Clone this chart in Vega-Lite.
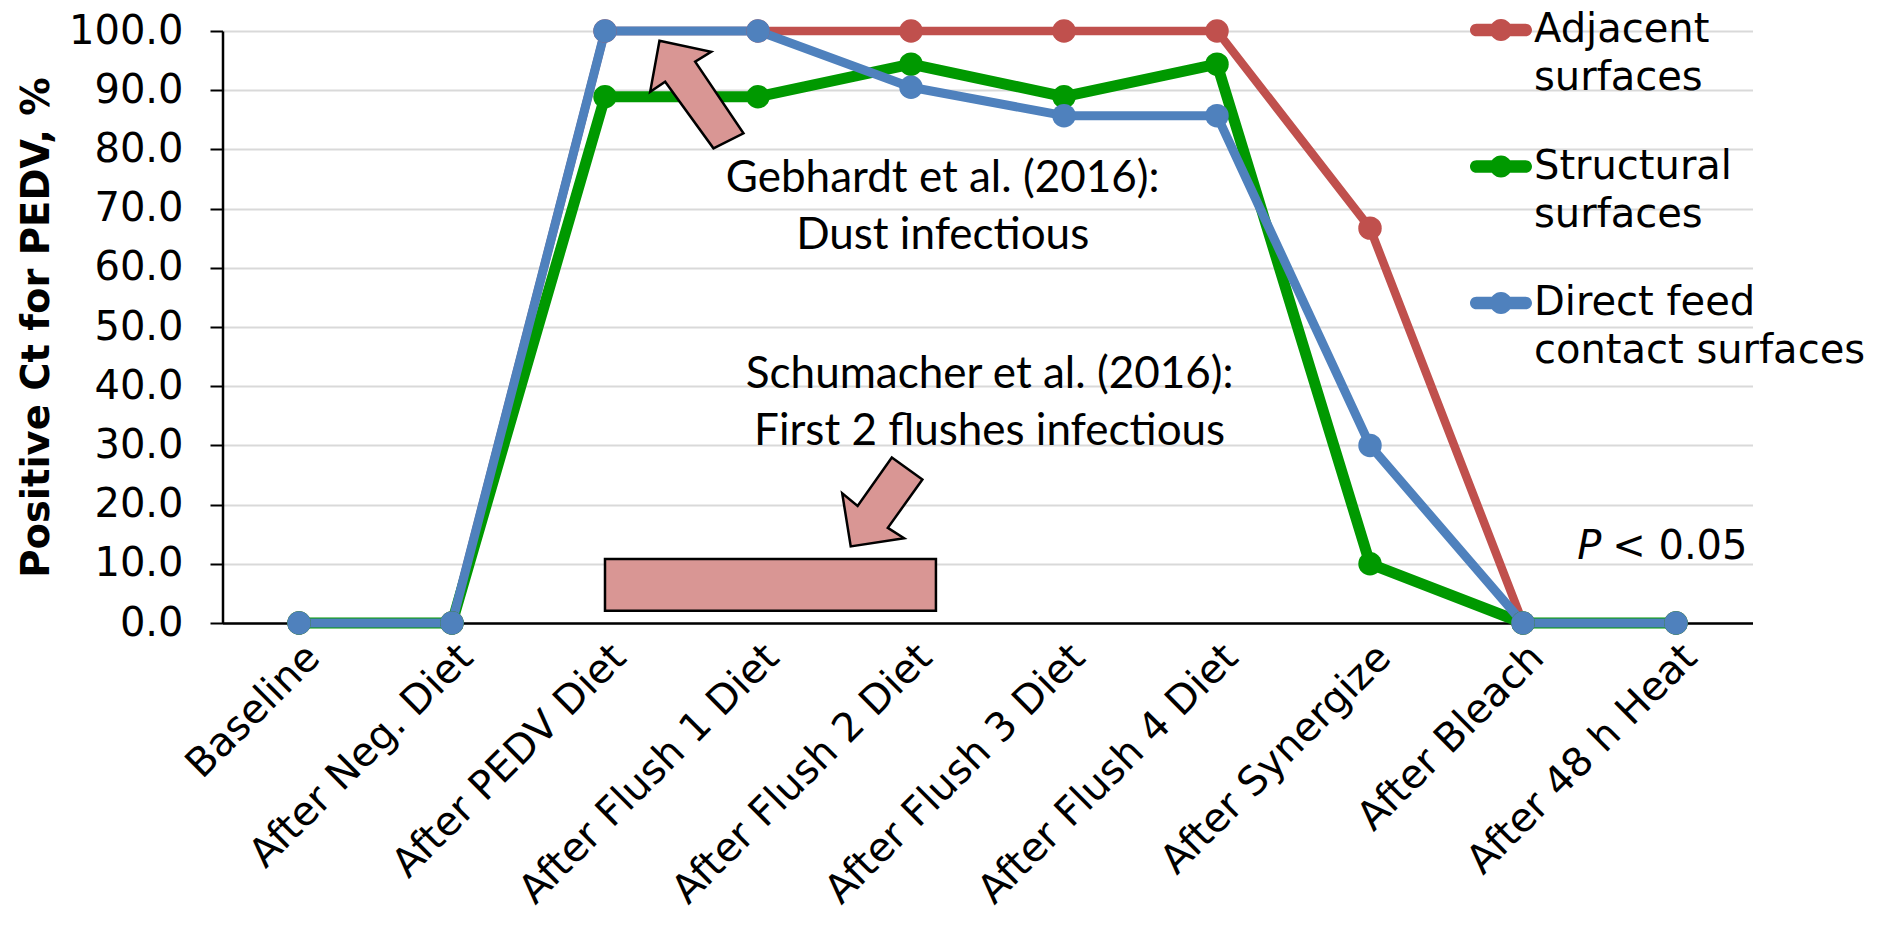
{
  "$schema": "https://vega.github.io/schema/vega-lite/v6.json",
  "width": 1530,
  "height": 592,
  "autosize": {"type": "none"},
  "padding": {"left": 222.5, "top": 31, "right": 136.5, "bottom": 315},
  "background": "white",
  "config": {
    "view": {"stroke": null},
    "style": {"guide-label": {"lineHeight": 48}}
  },
  "datasets": {
    "lines": [
      {"step": "Baseline", "series": "Adjacent surfaces", "value": 0},
      {"step": "After Neg. Diet", "series": "Adjacent surfaces", "value": 0},
      {"step": "After PEDV Diet", "series": "Adjacent surfaces", "value": 100},
      {"step": "After Flush 1 Diet", "series": "Adjacent surfaces", "value": 100},
      {"step": "After Flush 2 Diet", "series": "Adjacent surfaces", "value": 100},
      {"step": "After Flush 3 Diet", "series": "Adjacent surfaces", "value": 100},
      {"step": "After Flush 4 Diet", "series": "Adjacent surfaces", "value": 100},
      {"step": "After Synergize", "series": "Adjacent surfaces", "value": 66.7},
      {"step": "After Bleach", "series": "Adjacent surfaces", "value": 0},
      {"step": "After 48 h Heat", "series": "Adjacent surfaces", "value": 0},
      {"step": "Baseline", "series": "Structural surfaces", "value": 0},
      {"step": "After Neg. Diet", "series": "Structural surfaces", "value": 0},
      {"step": "After PEDV Diet", "series": "Structural surfaces", "value": 88.9},
      {"step": "After Flush 1 Diet", "series": "Structural surfaces", "value": 88.9},
      {"step": "After Flush 2 Diet", "series": "Structural surfaces", "value": 94.4},
      {"step": "After Flush 3 Diet", "series": "Structural surfaces", "value": 88.9},
      {"step": "After Flush 4 Diet", "series": "Structural surfaces", "value": 94.4},
      {"step": "After Synergize", "series": "Structural surfaces", "value": 10},
      {"step": "After Bleach", "series": "Structural surfaces", "value": 0},
      {"step": "After 48 h Heat", "series": "Structural surfaces", "value": 0},
      {"step": "Baseline", "series": "Direct feed contact surfaces", "value": 0},
      {"step": "After Neg. Diet", "series": "Direct feed contact surfaces", "value": 0},
      {"step": "After PEDV Diet", "series": "Direct feed contact surfaces", "value": 100},
      {"step": "After Flush 1 Diet", "series": "Direct feed contact surfaces", "value": 100},
      {"step": "After Flush 2 Diet", "series": "Direct feed contact surfaces", "value": 90.5},
      {"step": "After Flush 3 Diet", "series": "Direct feed contact surfaces", "value": 85.7},
      {"step": "After Flush 4 Diet", "series": "Direct feed contact surfaces", "value": 85.7},
      {"step": "After Synergize", "series": "Direct feed contact surfaces", "value": 30},
      {"step": "After Bleach", "series": "Direct feed contact surfaces", "value": 0},
      {"step": "After 48 h Heat", "series": "Direct feed contact surfaces", "value": 0}
    ]
  },
  "resolve": {"scale": {"x": "independent"}},
  "layer": [
    {
      "data": {"name": "lines"},
      "encoding": {
        "x": {
          "field": "step",
          "type": "ordinal",
          "sort": ["Baseline", "After Neg. Diet", "After PEDV Diet", "After Flush 1 Diet", "After Flush 2 Diet", "After Flush 3 Diet", "After Flush 4 Diet", "After Synergize", "After Bleach", "After 48 h Heat"],
          "scale": {"type": "point", "padding": 0.5},
          "axis": {
            "title": null,
            "labelAngle": -45,
            "labelAlign": "right",
            "labelBaseline": "middle",
            "labelFont": "DejaVu Sans",
            "labelFontSize": 40,
            "labelColor": "black",
            "labelPadding": 28,
            "labelOffset": 14,
            "labelLimit": 700,
            "labelOverlap": false,
            "ticks": false,
            "grid": false,
            "domainColor": "black",
            "domainWidth": 2.5
          }
        },
        "y": {
          "field": "value",
          "type": "quantitative",
          "scale": {"domain": [0, 100], "nice": false},
          "axis": {
            "title": "Positive Ct for PEDV, %",
            "titleFont": "DejaVu Sans",
            "titleFontWeight": "bold",
            "titleFontSize": 38.5,
            "titleColor": "black",
            "titleAngle": 270,
            "titleAlign": "center",
            "titleBaseline": "middle",
            "titleX": -186,
            "titleY": 296,
            "values": [0, 10, 20, 30, 40, 50, 60, 70, 80, 90, 100],
            "format": ".1f",
            "labelFont": "DejaVu Sans",
            "labelFontSize": 40,
            "labelColor": "black",
            "labelPadding": 27,
            "tickSize": 12.5,
            "tickColor": "black",
            "tickWidth": 2,
            "domainColor": "black",
            "domainWidth": 2.5,
            "grid": true,
            "gridColor": "#D9D9D9",
            "gridWidth": 2
          }
        }
      },
      "layer": [
        {
          "transform": [{"filter": "datum.series === 'Adjacent surfaces'"}],
          "mark": {"type": "line", "color": "#C0504D", "strokeWidth": 8.5, "strokeJoin": "round", "strokeCap": "round"}
        },
        {
          "transform": [{"filter": "datum.series === 'Structural surfaces'"}],
          "mark": {"type": "line", "color": "#009900", "strokeWidth": 11, "strokeJoin": "round", "strokeCap": "round"}
        },
        {
          "transform": [{"filter": "datum.series === 'Direct feed contact surfaces'"}],
          "mark": {"type": "line", "color": "#4F81BD", "strokeWidth": 9, "strokeJoin": "round", "strokeCap": "round"}
        },
        {
          "mark": {"type": "point", "filled": true, "size": 550, "opacity": 1, "strokeWidth": 0},
          "encoding": {
            "color": {
              "field": "series",
              "type": "nominal",
              "scale": {
                "domain": ["Adjacent surfaces", "Structural surfaces", "Direct feed contact surfaces"],
                "range": ["#C0504D", "#009900", "#4F81BD"]
              },
              "legend": {
                "title": null,
                "orient": "none",
                "legendX": 1247.5,
                "legendY": -32,
                "symbolType": "M-0.795,-0.205 L0.795,-0.205 A0.205,0.205 0 0,1 0.795,0.205 L-0.795,0.205 A0.205,0.205 0 0,1 -0.795,-0.205 Z M0.355,0 A0.355,0.355 0 1,1 -0.355,0 A0.355,0.355 0 1,1 0.355,0 Z",
                "symbolSize": 3844,
                "symbolStrokeWidth": 0,
                "symbolOpacity": 1,
                "labelFont": "DejaVu Sans",
                "labelFontSize": 40,
                "labelColor": "black",
                "labelBaseline": "middle",
                "labelOffset": 2,
                "labelLimit": 600,
                "rowPadding": 37.5,
                "labelExpr": "datum.label === 'Direct feed contact surfaces' ? ['Direct feed', 'contact surfaces'] : split(datum.label, ' ')"
              }
            }
          }
        }
      ]
    },
    {
      "layer": [
        {
          "data": {"values": [{"pos": 2.0, "pos2": 4.163, "value": 2.08, "value2": 10.81}]},
          "mark": {"type": "rect", "fill": "#D99694", "stroke": "black", "strokeWidth": 2.5},
          "encoding": {
            "x": {"field": "pos", "type": "quantitative", "scale": {"domain": [-0.5, 9.5], "nice": false, "zero": false}, "axis": null},
            "x2": {"field": "pos2"},
            "y": {"field": "value", "type": "quantitative", "scale": {"domain": [0, 100], "nice": false}},
            "y2": {"field": "value2"}
          }
        },
        {
          "data": {"values": [{"pos": 2.356, "value": 98.36}]},
          "mark": {"type": "point", "filled": true, "fill": "#D99694", "stroke": "black", "strokeWidth": 2.5, "opacity": 1, "size": 4,
            "shape": "M0,0 L51.7,11 L35.7,21 L84,92.6 L54,107.6 L5.7,41 L-9.3,51 Z"},
          "encoding": {
            "x": {"field": "pos", "type": "quantitative", "scale": {"domain": [-0.5, 9.5], "nice": false, "zero": false}, "axis": null},
            "y": {"field": "value", "type": "quantitative", "scale": {"domain": [0, 100], "nice": false}}
          }
        },
        {
          "data": {"values": [{"pos": 3.606, "value": 12.94}]},
          "mark": {"type": "point", "filled": true, "fill": "#D99694", "stroke": "black", "strokeWidth": 2.5, "opacity": 1, "size": 4,
            "shape": "M0,0 L-8.5,-53 L6.9,-40.4 L41.1,-88.9 L71.7,-66.8 L37.1,-18.6 L53.4,-8.1 Z"},
          "encoding": {
            "x": {"field": "pos", "type": "quantitative", "scale": {"domain": [-0.5, 9.5], "nice": false, "zero": false}, "axis": null},
            "y": {"field": "value", "type": "quantitative", "scale": {"domain": [0, 100], "nice": false}}
          }
        },
        {
          "data": {"values": [
            {"pos": 4.207, "value": 72.86, "label": "Gebhardt et al. (2016):\nDust infectious"},
            {"pos": 4.514, "value": 39.65, "label": "Schumacher et al. (2016):\nFirst 2 flushes infectious"}
          ]},
          "mark": {"type": "text", "font": "Lato", "fontSize": 44, "lineBreak": "\n", "lineHeight": 57, "align": "center", "baseline": "alphabetic", "color": "black"},
          "encoding": {
            "x": {"field": "pos", "type": "quantitative", "scale": {"domain": [-0.5, 9.5], "nice": false, "zero": false}, "axis": null},
            "y": {"field": "value", "type": "quantitative", "scale": {"domain": [0, 100], "nice": false}},
            "text": {"field": "label"}
          }
        },
        {
          "data": {"values": [{"pos": 8.355, "value": 10.76, "label": "P"}]},
          "mark": {"type": "text", "font": "DejaVu Sans", "fontSize": 40, "fontStyle": "italic", "align": "left", "baseline": "alphabetic", "color": "black"},
          "encoding": {
            "x": {"field": "pos", "type": "quantitative", "scale": {"domain": [-0.5, 9.5], "nice": false, "zero": false}, "axis": null},
            "y": {"field": "value", "type": "quantitative", "scale": {"domain": [0, 100], "nice": false}},
            "text": {"field": "label"}
          }
        },
        {
          "data": {"values": [{"pos": 8.583, "value": 10.76, "label": "< 0.05"}]},
          "mark": {"type": "text", "font": "DejaVu Sans", "fontSize": 40, "align": "left", "baseline": "alphabetic", "color": "black"},
          "encoding": {
            "x": {"field": "pos", "type": "quantitative", "scale": {"domain": [-0.5, 9.5], "nice": false, "zero": false}, "axis": null},
            "y": {"field": "value", "type": "quantitative", "scale": {"domain": [0, 100], "nice": false}},
            "text": {"field": "label"}
          }
        }
      ]
    }
  ]
}
